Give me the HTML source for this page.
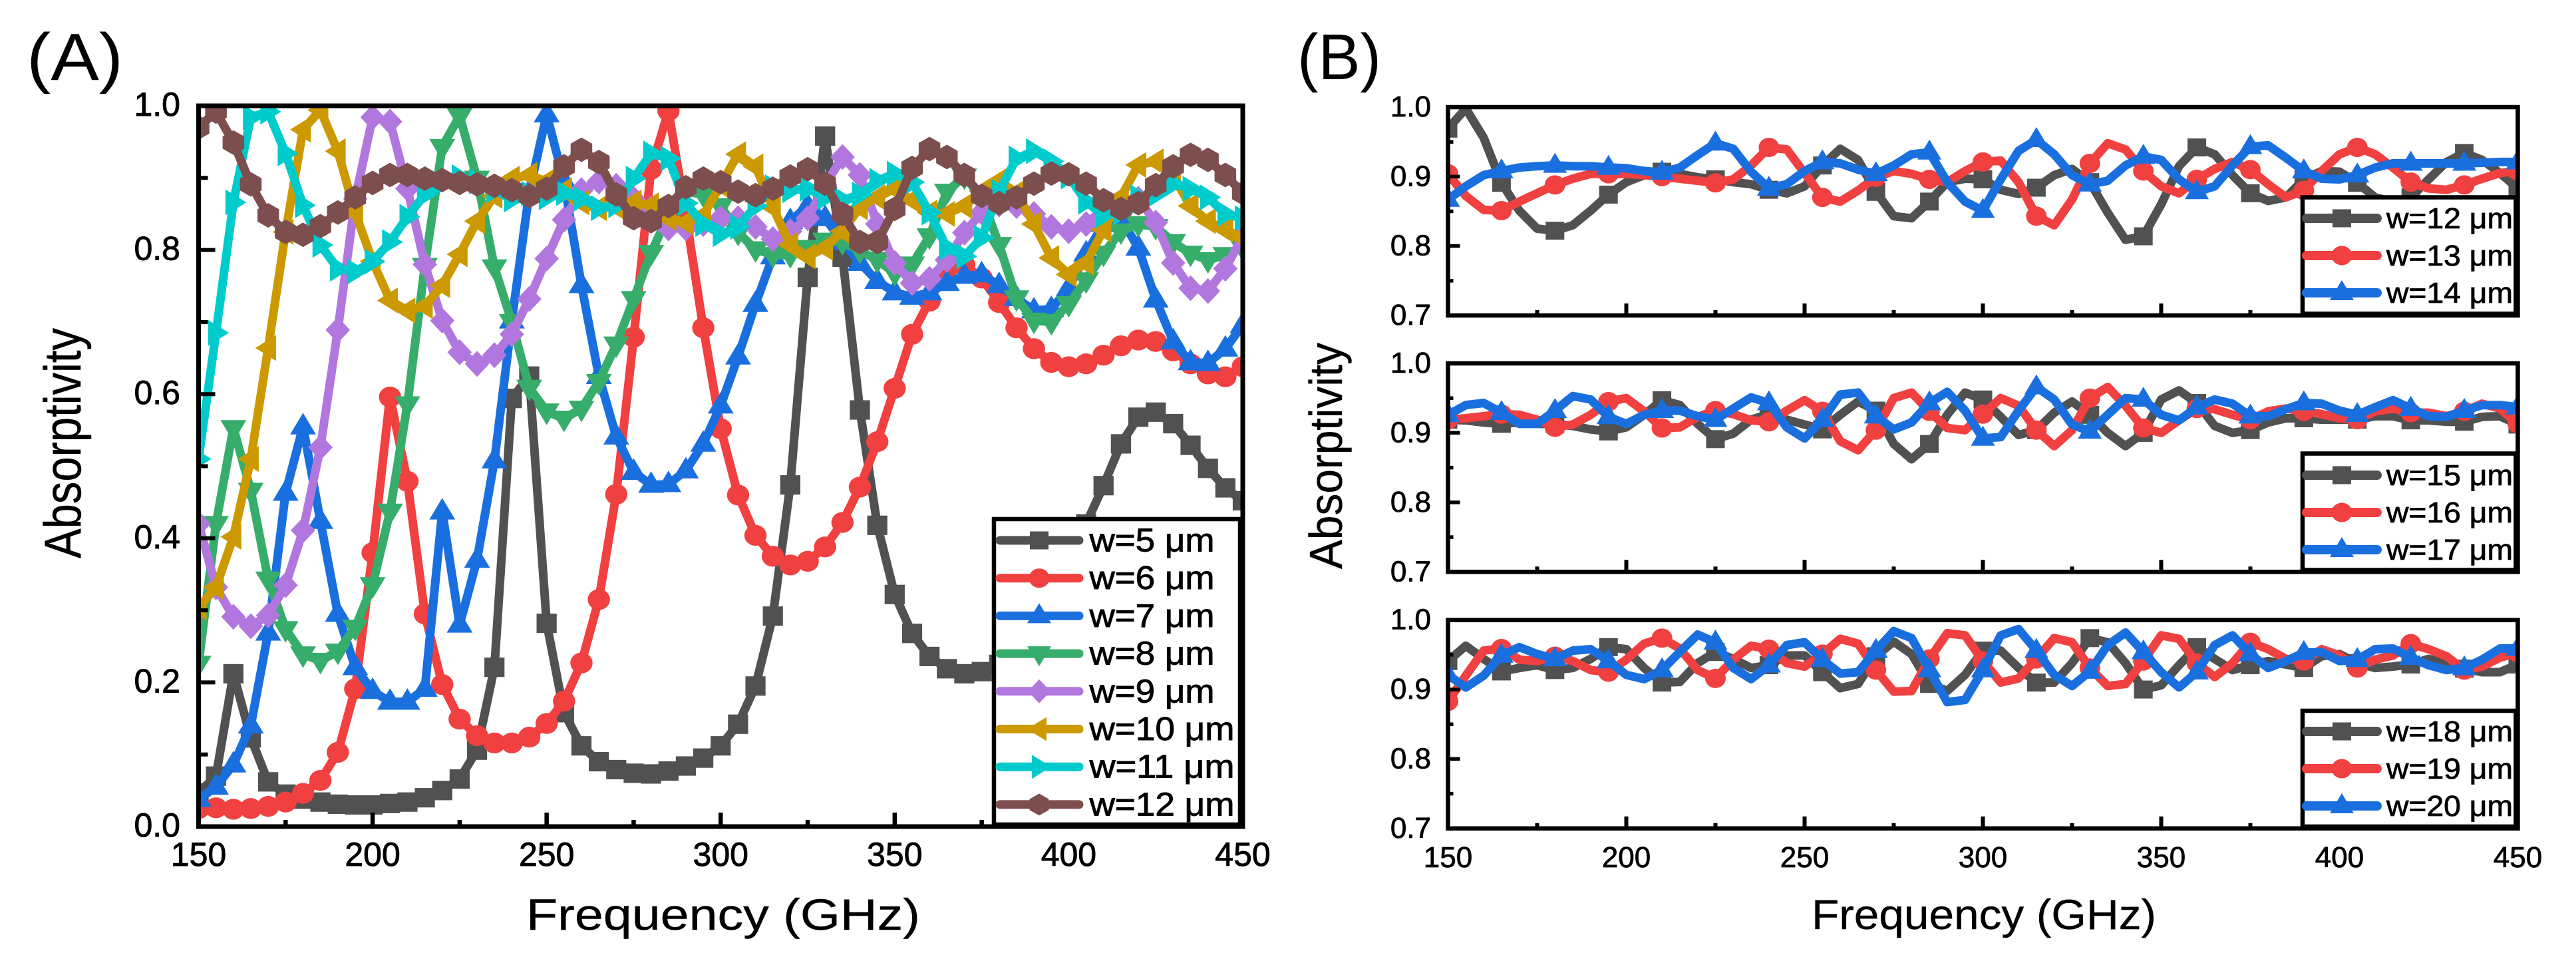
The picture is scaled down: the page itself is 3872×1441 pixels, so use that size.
<!DOCTYPE html>
<html lang="en">
<head>
<meta charset="utf-8">
<title>Absorptivity vs Frequency</title>
<style>
html,body{margin:0;padding:0;background:#fff;width:3872px;height:1441px;overflow:hidden}
svg{display:block;font-family:"Liberation Sans",sans-serif}
</style>
</head>
<body>
<svg id="figure" xmlns="http://www.w3.org/2000/svg" width="3872" height="1441" viewBox="0 0 3872 1441">
<rect width="3872" height="1441" fill="#ffffff"/>
</svg>
<script>
const frequencies = [150,155,160,165,170,175,180,185,190,195,200,205,210,215,220,225,230,235,240,245,250,255,260,265,270,275,280,285,290,295,300,305,310,315,320,325,330,335,340,345,350,355,360,365,370,375,380,385,390,395,400,405,410,415,420,425,430,435,440,445,450];

const a_w5 = [.047,.07,.212,.123,.062,.045,.038,.034,.031,.030,.030,.032,.034,.04,.05,.066,.106,.221,.594,.625,.282,.158,.112,.09,.079,.074,.073,.077,.084,.095,.112,.142,.195,.292,.474,.762,.958,.79,.578,.418,.322,.268,.236,.219,.212,.215,.225,.25,.285,.325,.37,.42,.473,.531,.568,.575,.559,.529,.497,.470,.452];
const a_w6 = [.025,.026,.024,.025,.028,.034,.046,.064,.103,.191,.38,.596,.479,.295,.197,.149,.126,.116,.116,.124,.143,.174,.227,.315,.461,.679,.912,.993,.848,.692,.552,.460,.404,.375,.363,.368,.388,.422,.471,.534,.608,.683,.729,.774,.779,.761,.727,.692,.663,.644,.638,.642,.654,.667,.675,.673,.660,.642,.628,.624,.638];
const a_w7 = [.038,.055,.086,.14,.269,.463,.555,.424,.295,.221,.188,.173,.173,.191,.437,.28,.37,.508,.702,.88,.988,.895,.751,.625,.541,.492,.474,.475,.494,.531,.584,.652,.725,.791,.84,.861,.844,.811,.782,.757,.741,.735,.741,.754,.764,.766,.751,.733,.716,.718,.747,.795,.836,.844,.803,.731,.673,.644,.643,.663,.696];
const a_w8 = [.226,.42,.553,.466,.343,.274,.239,.23,.243,.276,.335,.437,.586,.778,.943,.986,.899,.776,.70,.609,.576,.566,.58,.617,.669,.732,.796,.848,.881,.877,.861,.824,.801,.793,.793,.803,.813,.811,.799,.786,.768,.780,.819,.881,.902,.873,.807,.733,.702,.700,.725,.758,.795,.826,.836,.832,.811,.795,.786,.793,.803];
const a_w9 = [.42,.332,.291,.278,.293,.335,.411,.526,.689,.871,.984,.978,.885,.78,.702,.658,.642,.654,.683,.732,.788,.842,.883,.895,.889,.871,.858,.83,.83,.836,.844,.844,.832,.815,.826,.844,.89,.929,.904,.836,.782,.754,.76,.786,.824,.852,.863,.861,.85,.832,.826,.836,.857,.863,.871,.838,.782,.747,.743,.774,.819];
const a_w10 = [.304,.332,.402,.51,.664,.825,.967,.994,.937,.852,.784,.73,.716,.722,.751,.794,.84,.875,.899,.904,.895,.883,.866,.858,.86,.866,.862,.844,.838,.848,.89,.933,.916,.859,.807,.791,.803,.826,.859,.873,.885,.869,.852,.85,.861,.881,.896,.879,.836,.789,.766,.782,.828,.873,.918,.923,.902,.861,.84,.828,.817];
const a_w11 = [.51,.685,.866,.984,.992,.934,.862,.807,.774,.77,.784,.811,.846,.877,.893,.901,.895,.883,.87,.878,.873,.879,.871,.858,.862,.899,.934,.927,.865,.836,.822,.832,.861,.887,.883,.885,.873,.869,.877,.896,.906,.894,.852,.803,.791,.817,.881,.927,.937,.923,.902,.867,.848,.852,.873,.877,.892,.885,.873,.85,.844];
const a_w12 = [.97,.992,.949,.891,.848,.825,.821,.833,.852,.873,.893,.904,.904,.899,.897,.893,.891,.889,.883,.875,.885,.916,.939,.922,.877,.844,.840,.861,.887,.899,.894,.881,.876,.885,.902,.912,.892,.850,.811,.811,.857,.914,.940,.929,.904,.875,.865,.873,.892,.906,.905,.892,.869,.857,.865,.890,.916,.932,.925,.904,.879];

const b_w12 = [.969,.998,.956,.891,.851,.825,.822,.83,.851,.874,.892,.902,.907,.904,.899,.896,.892,.889,.881,.876,.886,.916,.94,.924,.878,.843,.84,.864,.892,.897,.896,.881,.875,.884,.902,.911,.892,.848,.809,.814,.86,.915,.942,.932,.902,.876,.865,.87,.896,.908,.907,.891,.87,.864,.87,.896,.921,.934,.924,.905,.883];
const b_w13 = [.904,.872,.852,.851,.864,.876,.888,.897,.904,.904,.904,.902,.9,.897,.894,.891,.896,.916,.942,.939,.905,.87,.864,.88,.899,.908,.904,.896,.892,.908,.921,.923,.892,.843,.83,.867,.919,.948,.939,.908,.886,.876,.896,.911,.921,.91,.889,.87,.88,.908,.932,.942,.932,.913,.892,.883,.881,.888,.897,.905,.908];
const b_w14 = [.867,.886,.902,.908,.913,.915,.916,.915,.915,.913,.912,.908,.906,.913,.931,.948,.94,.907,.883,.889,.908,.921,.919,.91,.904,.916,.932,.935,.892,.864,.851,.896,.937,.953,.932,.902,.889,.894,.916,.929,.924,.896,.878,.886,.916,.943,.945,.927,.908,.897,.896,.902,.913,.919,.919,.919,.919,.919,.92,.921,.921];
const b_w15 = [.919,.918,.915,.913,.915,.913,.913,.91,.905,.902,.908,.926,.947,.94,.913,.891,.899,.919,.927,.919,.912,.905,.926,.945,.932,.884,.862,.884,.926,.958,.948,.923,.897,.904,.929,.945,.926,.9,.881,.9,.948,.961,.943,.91,.9,.904,.915,.921,.921,.919,.919,.919,.924,.924,.918,.918,.916,.916,.923,.924,.912];
const b_w16 = [.919,.921,.924,.927,.926,.919,.908,.912,.926,.945,.95,.931,.907,.908,.923,.932,.927,.918,.916,.932,.947,.931,.888,.875,.904,.95,.958,.931,.907,.904,.927,.95,.939,.904,.881,.904,.95,.966,.939,.907,.9,.918,.935,.934,.926,.919,.931,.935,.931,.927,.921,.919,.931,.935,.929,.929,.924,.931,.942,.935,.913];
const b_w17 = [.926,.94,.943,.929,.913,.913,.932,.953,.948,.923,.913,.926,.932,.932,.924,.919,.935,.951,.943,.908,.892,.919,.955,.958,.924,.905,.915,.943,.959,.932,.892,.894,.932,.966,.948,.912,.902,.926,.95,.948,.926,.918,.937,.948,.942,.924,.924,.934,.943,.942,.932,.926,.937,.947,.935,.924,.923,.932,.94,.94,.937];
const b_w18 = [.941,.963,.944,.926,.931,.935,.928,.931,.944,.961,.958,.931,.91,.911,.938,.954,.944,.931,.935,.949,.949,.925,.902,.908,.948,.969,.951,.908,.898,.921,.956,.956,.931,.91,.91,.938,.974,.968,.938,.9,.906,.935,.961,.944,.928,.935,.941,.936,.931,.948,.951,.938,.931,.933,.936,.944,.938,.93,.925,.925,.936];
const b_w19 = [.883,.92,.956,.959,.943,.941,.948,.941,.928,.925,.943,.966,.974,.959,.928,.916,.943,.963,.958,.938,.933,.951,.973,.966,.928,.897,.898,.944,.981,.978,.941,.91,.916,.944,.974,.968,.931,.905,.908,.941,.978,.973,.938,.918,.938,.968,.958,.944,.941,.958,.949,.931,.943,.949,.966,.958,.948,.928,.933,.946,.953];
const b_w20 = [.921,.903,.92,.949,.961,.951,.944,.956,.958,.941,.921,.915,.928,.954,.979,.968,.931,.915,.935,.964,.968,.943,.923,.925,.956,.984,.974,.928,.882,.885,.928,.978,.987,.956,.921,.905,.926,.964,.982,.954,.925,.903,.925,.964,.978,.951,.931,.941,.953,.954,.941,.943,.958,.959,.946,.935,.928,.931,.943,.959,.959];

const xTickLabels = [150,200,250,300,350,400,450];
const xMinorTicks = [175,225,275,325,375,425];
const aYTickLabels = ['0.0','0.2','0.4','0.6','0.8','1.0'];
const aYMinorTicks = [0.1,0.3,0.5,0.7,0.9];
const bYTickLabels = ['0.7','0.8','0.9','1.0'];
const bYMinorTicks = [0.75,0.85,0.95];

const svg = document.getElementById('figure');
const NS = 'http://www.w3.org/2000/svg';
const COLORS = {grey:'#515151',red:'#f14040',blue:'#1a6fdf',green:'#37ad6b',purple:'#b177de',gold:'#cc9900',cyan:'#00cbcc',brown:'#7d4e4e'};

function mk(tag, attrs, parent) {
  const el = document.createElementNS(NS, tag);
  for (const k in attrs) el.setAttribute(k, attrs[k]);
  (parent || svg).appendChild(el);
  return el;
}
function xScale(p, f) { return p.x0 + (f - 150) / 300 * (p.x1 - p.x0); }
function yScale(p, v) { return p.y0 - (v - p.ymin) / (p.ymax - p.ymin) * (p.y0 - p.y1); }

function drawMarker(kind, x, y, color, parent, s) {
  const pts = (arr) => arr.map(a => (x + a[0] * s).toFixed(1) + ',' + (y + a[1] * s).toFixed(1)).join(' ');
  let el;
  if (kind === 'square') el = mk('rect', {x:x-14*s,y:y-13.5*s,width:28*s,height:27*s,fill:color}, parent);
  else if (kind === 'circle') el = mk('ellipse', {cx:x,cy:y,rx:15.5*s,ry:14.5*s,fill:color}, parent);
  else if (kind === 'up') el = mk('polygon', {points:pts([[0,-19],[18,11],[-18,11]]),fill:color}, parent);
  else if (kind === 'down') el = mk('polygon', {points:pts([[0,19],[18,-11],[-18,-11]]),fill:color}, parent);
  else if (kind === 'diamond') el = mk('polygon', {points:pts([[0,-18],[17,0],[0,18],[-17,0]]),fill:color}, parent);
  else if (kind === 'left') el = mk('polygon', {points:pts([[-18,0],[11,-18],[11,18]]),fill:color}, parent);
  else if (kind === 'right') el = mk('polygon', {points:pts([[18,0],[-11,-18],[-11,18]]),fill:color}, parent);
  else el = mk('polygon', {points:pts([[0,-16.5],[14.5,-8.2],[14.5,8.2],[0,16.5],[-14.5,8.2],[-14.5,-8.2]]),fill:color}, parent);
  
  
  return el;
}

function drawText(str, x, y, size, anchor, len, parent) {
  const weight = size >= 90 ? 0 : (size >= 60 ? 0.006 : 0.018);
  const attrs = {x:x,y:y,'font-size':size,'text-anchor':anchor,fill:'#000',stroke:'#000','stroke-width':(size*weight).toFixed(2)};
  if (len) { attrs.textLength = len; attrs.lengthAdjust = 'spacingAndGlyphs'; }
  const t = mk('text', attrs, parent);
  t.textContent = str;
  return t;
}

function drawSeries(p, name, values, kind, color, markerStep, width, s) {
  const g = mk('g', {'clip-path':'url(#' + p.id + '-clip)'});
  
  
  const d = values.map((v, i) => xScale(p, frequencies[i]).toFixed(1) + ',' + yScale(p, v).toFixed(1)).join(' ');
  const line = mk('polyline', {points:d,fill:'none',stroke:color,'stroke-width':width,'stroke-linejoin':'round','stroke-linecap':'round'}, g);
  
  
  values.forEach((v, i) => {
    if (i % markerStep === 0) drawMarker(kind, xScale(p, frequencies[i]), yScale(p, v), color, g, s);
  });
}

function drawFrame(p, xLabels, yLabels, yMinor, opt) {
  const frame = mk('rect', {x:p.x0,y:p.y1,width:p.x1-p.x0,height:p.y0-p.y1,fill:'none',stroke:'#000','stroke-width':opt.frameWidth});
  
  
  xTickLabels.forEach(f => {
    const x = xScale(p, f);
    const tick = mk('line', {x1:x,x2:x,y1:p.y0,y2:p.y0-opt.xMajor,stroke:'#000','stroke-width':opt.tickWidth});
    
    
    if (xLabels) {
      const t = drawText(String(f), x, opt.xLabelY, opt.tickFont, 'middle');
      
      
    }
  });
  xMinorTicks.forEach(f => {
    const x = xScale(p, f);
    const tick = mk('line', {x1:x,x2:x,y1:p.y0,y2:p.y0-opt.xMinor,stroke:'#000','stroke-width':opt.tickWidth});
    
    
  });
  yLabels.forEach(lbl => {
    const y = yScale(p, parseFloat(lbl));
    const tick = mk('line', {x1:p.x0,x2:p.x0+opt.yMajor,y1:y,y2:y,stroke:'#000','stroke-width':opt.tickWidth-0.5});
    
    
    const t = drawText(lbl, opt.yLabelX, y + opt.yLabelDy, opt.tickFont, 'end');
    
    
  });
  yMinor.forEach(v => {
    const y = yScale(p, v);
    const tick = mk('line', {x1:p.x0,x2:p.x0+opt.yMinor,y1:y,y2:y,stroke:'#000','stroke-width':opt.tickWidth-0.5});
    
    
  });
}

function drawLegend(box, rows, opt) {
  const g = mk('g', {});
  
  
  const r = mk('rect', {x:box.x,y:box.y,width:box.w,height:box.h,fill:'#fff',stroke:'#000','stroke-width':6.5}, g);
  
  
  rows.forEach((row, i) => {
    const y = opt.firstY + i * opt.step;
    const ln = mk('line', {x1:opt.lineX0,x2:opt.lineX1,y1:y,y2:y,stroke:row.color,'stroke-width':opt.lineW,'stroke-linecap':'round'}, g);
    
    
    drawMarker(row.kind, opt.markerX, y, row.color, g, 1);
    const t = drawText(row.label, opt.textX, y + opt.textDy, opt.font, 'start', row.len, g);
    
    
  });
}

function defineClip(p) {
  let defs = svg.querySelector('defs');
  if (!defs) defs = mk('defs', {});
  const c = mk('clipPath', {id:p.id + '-clip'}, defs);
  mk('rect', {x:p.x0,y:p.y1,width:p.x1-p.x0,height:p.y0-p.y1}, c);
}

/* ---- panel A ---- */
const panelA = {id:'panel-a',x0:298.5,x1:1868,y0:1242,y1:159,ymin:0,ymax:1};
defineClip(panelA);
drawSeries(panelA,'series-w5',a_w5,'square',COLORS.grey,1,13,1.08);
drawSeries(panelA,'series-w6',a_w6,'circle',COLORS.red,1,13,1.08);
drawSeries(panelA,'series-w7',a_w7,'up',COLORS.blue,1,13,1.08);
drawSeries(panelA,'series-w8',a_w8,'down',COLORS.green,1,13,1.08);
drawSeries(panelA,'series-w9',a_w9,'diamond',COLORS.purple,1,13,1.08);
drawSeries(panelA,'series-w10',a_w10,'left',COLORS.gold,1,13,1.08);
drawSeries(panelA,'series-w11',a_w11,'right',COLORS.cyan,1,13,1.08);
drawSeries(panelA,'series-w12',a_w12,'hexagon',COLORS.brown,1,13,1.12);
drawFrame(panelA,true,aYTickLabels,aYMinorTicks,{frameWidth:7,tickWidth:6.5,xMajor:21,xMinor:10,yMajor:25,yMinor:14,xLabelY:1301,yLabelX:271,yLabelDy:15,tickFont:50});
drawLegend({x:1494,y:780,w:370,h:459},[
  {label:'w=5 μm',kind:'square',color:COLORS.grey,len:188},
  {label:'w=6 μm',kind:'circle',color:COLORS.red,len:188},
  {label:'w=7 μm',kind:'up',color:COLORS.blue,len:188},
  {label:'w=8 μm',kind:'down',color:COLORS.green,len:188},
  {label:'w=9 μm',kind:'diamond',color:COLORS.purple,len:188},
  {label:'w=10 μm',kind:'left',color:COLORS.gold,len:218},
  {label:'w=11 μm',kind:'right',color:COLORS.cyan,len:218},
  {label:'w=12 μm',kind:'hexagon',color:COLORS.brown,len:218}
],{firstY:812,step:56.7,lineX0:1503,lineX1:1622,lineW:13,markerX:1562,textX:1637.5,textDy:16.5,font:49});

const xTitleA = drawText('Frequency (GHz)',791,1397,66,'start',592);


const yTitleA = drawText('Absorptivity',0,0,78,'start',346);
yTitleA.setAttribute('transform','translate(121,839) rotate(-90)');


const labelA = drawText('(A)',40,120,100,'start',145);



/* ---- panel B ---- */
const panelB1 = {id:'panel-b-top',x0:2176.5,x1:3784.5,y0:474,y1:161,ymin:0.7,ymax:1};
const panelB2 = {id:'panel-b-middle',x0:2176.5,x1:3784.5,y0:859.3,y1:546,ymin:0.7,ymax:1};
const panelB3 = {id:'panel-b-bottom',x0:2176.5,x1:3784.5,y0:1244.8,y1:931.7,ymin:0.7,ymax:1};
[panelB1,panelB2,panelB3].forEach(defineClip);

drawSeries(panelB1,'series-w12-b',b_w12,'square',COLORS.grey,3,13,1);
drawSeries(panelB1,'series-w13',b_w13,'circle',COLORS.red,3,13,1);
drawSeries(panelB1,'series-w14',b_w14,'up',COLORS.blue,3,13,1);
drawSeries(panelB2,'series-w15',b_w15,'square',COLORS.grey,3,13,1);
drawSeries(panelB2,'series-w16',b_w16,'circle',COLORS.red,3,13,1);
drawSeries(panelB2,'series-w17',b_w17,'up',COLORS.blue,3,13,1);
drawSeries(panelB3,'series-w18',b_w18,'square',COLORS.grey,3,13,1);
drawSeries(panelB3,'series-w19',b_w19,'circle',COLORS.red,3,13,1);
drawSeries(panelB3,'series-w20',b_w20,'up',COLORS.blue,3,13,1);

const bOpt = {frameWidth:6.5,tickWidth:6,xMajor:18,xMinor:8,yMajor:18,yMinor:8,xLabelY:1303,yLabelX:2151,yLabelDy:14,tickFont:44};
drawFrame(panelB1,false,bYTickLabels,bYMinorTicks,bOpt);
drawFrame(panelB2,false,bYTickLabels,bYMinorTicks,bOpt);
drawFrame(panelB3,true,bYTickLabels,bYMinorTicks,bOpt);

const bLegendOpt = {step:56,lineX0:3467,lineX1:3573,lineW:14,markerX:3520,textX:3587,textDy:15,font:44};
drawLegend({x:3461,y:296.5,w:320.5,h:175},[
  {label:'w=12 μm',kind:'square',color:COLORS.grey,len:190},
  {label:'w=13 μm',kind:'circle',color:COLORS.red,len:190},
  {label:'w=14 μm',kind:'up',color:COLORS.blue,len:190}
],Object.assign({firstY:328},bLegendOpt));
drawLegend({x:3461,y:681.5,w:320.5,h:175},[
  {label:'w=15 μm',kind:'square',color:COLORS.grey,len:190},
  {label:'w=16 μm',kind:'circle',color:COLORS.red,len:190},
  {label:'w=17 μm',kind:'up',color:COLORS.blue,len:190}
],Object.assign({firstY:714},bLegendOpt));
drawLegend({x:3461,y:1068,w:320.5,h:174},[
  {label:'w=18 μm',kind:'square',color:COLORS.grey,len:190},
  {label:'w=19 μm',kind:'circle',color:COLORS.red,len:190},
  {label:'w=20 μm',kind:'up',color:COLORS.blue,len:190}
],Object.assign({firstY:1099},bLegendOpt));

const xTitleB = drawText('Frequency (GHz)',2723,1396,63,'start',518);


const yTitleB = drawText('Absorptivity',0,0,70,'start',340);
yTitleB.setAttribute('transform','translate(2017,855) rotate(-90)');


const labelB = drawText('(B)',1950,119,97,'start',126);


</script>
</body>
</html>
